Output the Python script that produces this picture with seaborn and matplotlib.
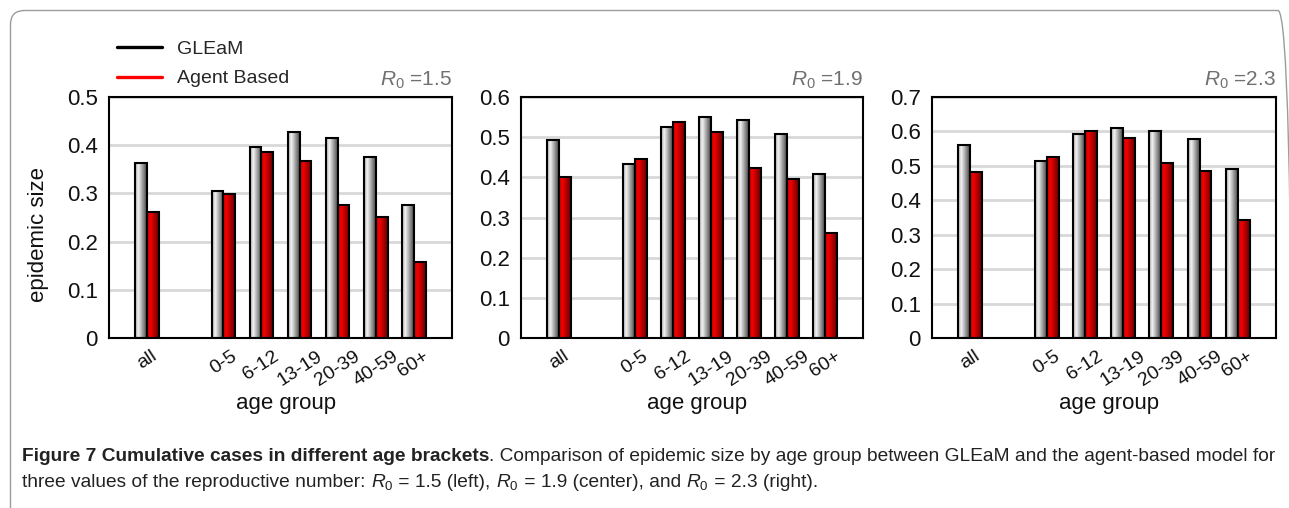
import numpy as np
import pandas as pd
import matplotlib
matplotlib.use("Agg")
import matplotlib.pyplot as plt
import seaborn as sns
from matplotlib.lines import Line2D
from matplotlib.patches import FancyBboxPatch
from matplotlib.colors import LinearSegmentedColormap, to_rgb

# ---- data -------------------------------------------------------------
age_groups = ["all", "0-5", "6-12", "13-19", "20-39", "40-59", "60+"]
models = ["GLEaM", "Agent Based"]
r0_labels = ["1.5", "1.9", "2.3"]

gleam_r15 = [0.364, 0.304, 0.396, 0.428, 0.414, 0.376, 0.276]
agent_r15 = [0.261, 0.298, 0.385, 0.367, 0.276, 0.252, 0.157]
gleam_r19 = [0.494, 0.432, 0.525, 0.550, 0.542, 0.509, 0.408]
agent_r19 = [0.400, 0.446, 0.537, 0.514, 0.422, 0.395, 0.262]
gleam_r23 = [0.562, 0.513, 0.592, 0.609, 0.602, 0.577, 0.491]
agent_r23 = [0.483, 0.527, 0.602, 0.580, 0.508, 0.484, 0.344]

y_max = [0.5, 0.6, 0.7]

# ---- style ------------------------------------------------------------
sns.set_style("white")
plt.rcParams["font.family"] = ["Liberation Sans", "DejaVu Sans"]
plt.rcParams["mathtext.fontset"] = "custom"
plt.rcParams["mathtext.rm"] = "Liberation Sans"
plt.rcParams["mathtext.it"] = "Liberation Sans:italic"

GREY = "#999999"
RED = "#dd0000"
grey_cmap = LinearSegmentedColormap.from_list(
    "grey_bar", [(0, "#a4a4a4"), (0.28, "#f4f4f4"), (1, "#454545")])
red_cmap = LinearSegmentedColormap.from_list(
    "red_bar", [(0, "#d40000"), (0.3, "#f20000"), (1, "#640000")])
gradient = np.linspace(0, 1, 256).reshape(1, -1)

W, H, DPI = 1289, 508, 100
fig = plt.figure(figsize=(W / DPI, H / DPI), dpi=DPI)

# axes boxes in pixels: left, right, top, bottom
boxes = [(109, 452, 97, 338), (521, 863, 97, 338), (932, 1276, 97, 338)]

order = ["all", " ", "0-5", "6-12", "13-19", "20-39", "40-59", "60+"]
tick_pos = [0, 2, 3, 4, 5, 6, 7]

series = [(gleam_r15, agent_r15), (gleam_r19, agent_r19), (gleam_r23, agent_r23)]


def shade_bars(ax):
    for patch in list(ax.patches):
        h = patch.get_height()
        if not np.isfinite(h) or h <= 0:
            continue
        x0, y0, w = patch.get_x(), patch.get_y(), patch.get_width()
        r, g, b = to_rgb(patch.get_facecolor()[:3])
        cmap = red_cmap if r - g > 0.3 else grey_cmap
        im = ax.imshow(gradient, cmap=cmap, extent=[x0, x0 + w, y0, y0 + h],
                       aspect="auto", interpolation="bilinear", origin="lower",
                       zorder=2.1)
        im.set_clip_path(patch)
        patch.set_facecolor("none")
        patch.set_zorder(2.2)


for i, ((l, r, t, b), (g_vals, a_vals)) in enumerate(zip(boxes, series)):
    ax = fig.add_axes([l / W, 1 - b / H, (r - l) / W, (b - t) / H])
    df = pd.DataFrame({
        "age group": age_groups * 2,
        "model": [models[0]] * len(age_groups) + [models[1]] * len(age_groups),
        "epidemic size": list(g_vals) + list(a_vals),
    })
    sns.barplot(data=df, x="age group", y="epidemic size", hue="model",
                order=order, hue_order=models, palette=[GREY, RED],
                width=0.62, edgecolor="black", linewidth=1.5,
                legend=False, ax=ax, errorbar=None)
    shade_bars(ax)
    ax.set_xlim(-1, 8)
    ax.set_ylim(0, y_max[i])
    yt = np.round(np.arange(0, y_max[i] + 1e-9, 0.1), 1)
    ax.set_yticks(yt)
    ax.set_yticklabels(["0" if v == 0 else f"{v:.1f}" for v in yt])
    ax.set_xticks(tick_pos)
    ax.set_xticklabels(age_groups)
    plt.setp(ax.get_xticklabels(), rotation=33, ha="center")
    ax.tick_params(axis="y", length=0, pad=8, labelsize=16, colors="#111111")
    ax.tick_params(axis="x", length=0, pad=7, labelsize=14, colors="#111111")
    ax.set_axisbelow(True)
    ax.yaxis.grid(True, color="#d8d8d8", linewidth=2)
    for sp in ax.spines.values():
        sp.set_color("black")
        sp.set_linewidth(1.5)
    ax.set_xlabel("age group", fontsize=16, color="#111111")
    ax.xaxis.label.set_va("center")
    ax.xaxis.set_label_coords(0.515, -0.27)
    if i == 0:
        ax.set_ylabel("epidemic size", fontsize=16, color="#111111")
        ax.yaxis.label.set_va("center")
        ax.yaxis.set_label_coords(-0.206, 0.43)
    else:
        ax.set_ylabel("")
    ax.text(1.0, 1.025, r"$R_0$ =" + r0_labels[i], transform=ax.transAxes,
            ha="right", va="bottom", fontsize=15, color="#707070")

# legend
handles = [Line2D([], [], color="black", lw=2.4), Line2D([], [], color="red", lw=2.4)]
fig.legend(handles, models, loc="upper left", bbox_to_anchor=(100 / W, 1 - 23 / H),
           frameon=False, fontsize=14, handlelength=2.3, handletextpad=0.75,
           labelspacing=0.6)

# rounded outer frame
frame = FancyBboxPatch((10.5 / DPI, -0.4), (1292 - 10.5) / DPI, (H - 10.5) / DPI + 0.4,
                       boxstyle="round,pad=0,rounding_size=0.14",
                       transform=fig.dpi_scale_trans, fill=False,
                       edgecolor="#9c9c9c", linewidth=1.0, clip_on=False)
fig.patches.append(frame)

# caption drawn as consecutive text runs
renderer = fig.canvas.get_renderer()
caption_family = "Liberation Sans"


def draw_runs(runs, x_px, y_px, size):
    x = x_px
    for txt, weight in runs:
        t = fig.text(x / W, 1 - y_px / H, txt, fontsize=size, fontweight=weight,
                     family=caption_family, color="#222222", va="baseline", ha="left")
        bb = t.get_window_extent(renderer)
        x = bb.x1
    return x


cap_size = 13.8
line1 = [("Figure 7 Cumulative cases in different age brackets", "bold"),
         (". Comparison of epidemic size by age group between GLEaM and the agent-based model for", "normal")]
line2 = [("three values of the reproductive number: ", "normal"),
         (r"$R_0$", "normal"), (" = 1.5 (left), ", "normal"),
         (r"$R_0$", "normal"), (" = 1.9 (center), and ", "normal"),
         (r"$R_0$", "normal"), (" = 2.3 (right).", "normal")]
draw_runs(line1, 22, 461, cap_size)
draw_runs(line2, 22, 487, cap_size)

fig.savefig("out.png", dpi=DPI)
